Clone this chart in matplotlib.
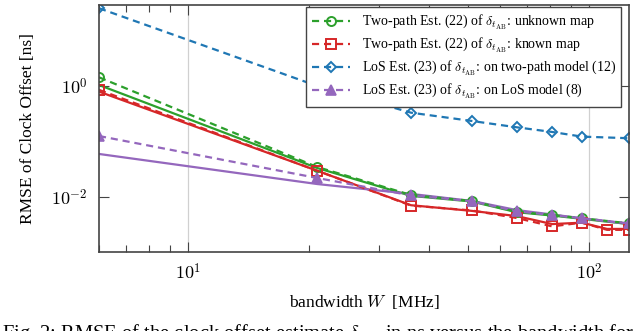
import math
import matplotlib.pyplot as plt
from matplotlib.ticker import FixedLocator, LogLocator, NullLocator, FuncFormatter, NullFormatter

plt.rcParams['font.family'] = ['Liberation Serif', 'DejaVu Serif']
plt.rcParams['mathtext.fontset'] = 'cm'

# bandwidth W [MHz]
bw = [6, 21, 36, 51, 66, 81, 96, 126]
bw_red = [6, 21, 36, 51, 66, 81, 96, 111, 126]

# RMSE of clock offset [ns], estimators (dashed, with markers)
green_est = [1.43, 0.035, 0.011, 0.0086, 0.0055, 0.0048, 0.0042, 0.0034]
red_est = [0.85, 0.030, 0.0071, 0.0058, 0.00425, 0.0030, 0.0035, 0.0026, 0.0026]
blue_est = [24.9, 1.0, 0.331, 0.235, 0.181, 0.149, 0.123, 0.115]
purple_est = [0.126, 0.0222, 0.0108, 0.0085, 0.0056, 0.0048, 0.0042, 0.0034]

# solid curves (not in legend)
green_solid = [1.04, 0.0336, 0.0106, 0.0084, 0.0054, 0.0047, 0.0041, 0.0033]
red_solid = [0.79, 0.030, 0.0072, 0.0057, 0.0046, 0.0033, 0.0035, 0.0027, 0.0027]
purple_solid = [0.060, 0.0173, 0.0115, 0.0086, 0.0059, 0.0049, 0.0042, 0.0033]

labels = [
    r'Two-path Est. (22) of $\delta_{t_{\mathrm{AB}}}$: unknown map',
    r'Two-path Est. (22) of $\delta_{t_{\mathrm{AB}}}$: known map',
    r'LoS Est. (23) of $\delta_{t_{\mathrm{AB}}}$: on two-path model (12)',
    r'LoS Est. (23) of $\delta_{t_{\mathrm{AB}}}$: on LoS model (8)',
]

c_green = '#2ca02c'
c_red = '#d62728'
c_blue = '#1f77b4'
c_purple = '#9467bd'

fig = plt.figure(figsize=(6.4, 3.31), dpi=100)
ax = fig.add_axes([0.1547, 0.2387, 0.8283, 0.7463])

lw = 1.6
dash = (3.2, 2.2)

# solid lines
ax.plot(bw, green_solid, color=c_green, lw=lw)
ax.plot(bw_red, red_solid, color=c_red, lw=lw)
ax.plot(bw, purple_solid, color=c_purple, lw=lw)

# dashed lines with markers
ax.plot(bw, green_est, color=c_green, lw=lw, dashes=dash, marker='o', ms=6.5,
        mfc='none', mew=1.4, label=labels[0])
ax.plot(bw_red, red_est, color=c_red, lw=lw, dashes=dash, marker='s', ms=7,
        mfc='none', mew=1.4, label=labels[1])
ax.plot(bw, blue_est, color=c_blue, lw=lw, dashes=dash, marker='D', ms=5.5,
        mfc='none', mew=1.4, label=labels[2])
ax.plot(bw, purple_est, color=c_purple, lw=lw, dashes=dash, marker='^', ms=7,
        mfc=c_purple, mew=1.2, label=labels[3])

# axes
ax.set_xscale('log')
ax.set_yscale('log')
ax.set_xlim(6, 126)
ax.set_ylim(1.04e-3, 28.5)

ax.xaxis.set_major_locator(FixedLocator([10, 100]))
ax.xaxis.set_minor_locator(LogLocator(base=10, subs=range(2, 10)))
ax.xaxis.set_minor_formatter(NullFormatter())
ax.yaxis.set_major_locator(FixedLocator([1e-2, 1e0]))
ax.yaxis.set_minor_locator(NullLocator())
logfmt = FuncFormatter(lambda v, p: r'$10^{%d}$' % round(math.log10(v)))
ax.xaxis.set_major_formatter(logfmt)
ax.yaxis.set_major_formatter(logfmt)

ax.tick_params(which='both', direction='in', top=True, right=True,
               color='#444444', labelsize=13, pad=8)
ax.tick_params(which='major', length=7.5, width=0.8)
ax.tick_params(which='minor', length=5, width=0.8)
for s in ax.spines.values():
    s.set_color('#444444')
    s.set_linewidth(1.2)

ax.grid(True, which='major', axis='x', color='#d0d0d0', lw=0.9)
ax.set_axisbelow(True)

ax.set_xlabel(r'bandwidth $W$  [MHz]', fontsize=12.5, labelpad=7)
ax.set_ylabel('RMSE of Clock Offset [ns]', fontsize=12.5, labelpad=11)

leg = ax.legend(loc='upper right', bbox_to_anchor=(0.985, 0.992), borderaxespad=0,
                fontsize=10, fancybox=False, framealpha=1, edgecolor='#444444',
                handlelength=2.8, handletextpad=0.8, labelspacing=0.3,
                borderpad=0.4)
leg.get_frame().set_linewidth(1.0)

# caption (cut off at the bottom of the picture, as in the source page)
fig.text(0.003, 0.028, r'Fig. 2: RMSE of the clock offset estimate $\delta_{t_{\mathrm{AB}}}$ in ns versus the bandwidth for',
         fontsize=14.8, va='top', ha='left')

plt.savefig('out.png', dpi=100)
